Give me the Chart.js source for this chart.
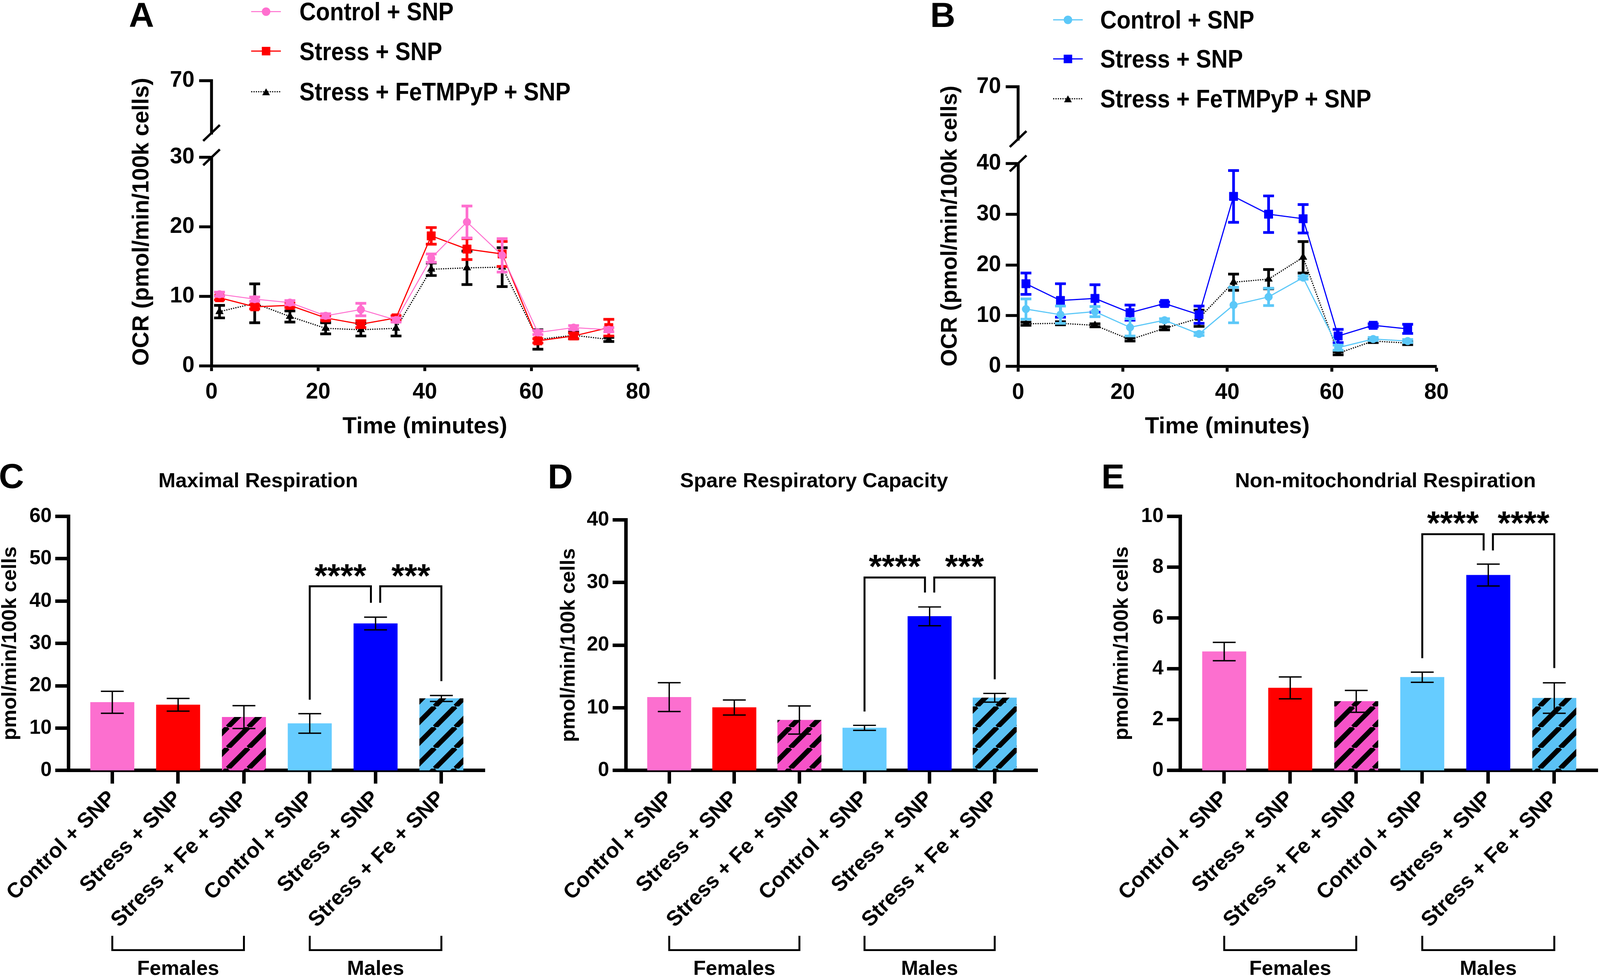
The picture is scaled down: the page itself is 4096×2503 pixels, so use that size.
<!DOCTYPE html>
<html><head><meta charset="utf-8">
<script src="https://cdn.jsdelivr.net/npm/chart.js@4.4.1/dist/chart.umd.min.js"></script>
<style>
html,body{margin:0;padding:0;background:#fff;}
body{width:4096px;height:2503px;position:relative;overflow:hidden;font-family:"Liberation Sans",Arial,Helvetica,sans-serif;font-weight:bold;color:#000;}
canvas{position:absolute;}
.t{position:absolute;white-space:nowrap;}
</style></head><body>
<script>
// ---------------- DATA ----------------
const timeMin = [1.5, 8.1, 14.7, 21.4, 28.0, 34.6, 41.2, 47.9, 54.5, 61.2, 67.9, 74.5];
const seriesNames = ['Control + SNP', 'Stress + SNP', 'Stress + FeTMPyP + SNP'];
const timeTicks = [0, 20, 40, 60, 80];

const A_control    = [10.3, 9.6, 9.1, 7.2, 8.1, 6.6, 15.5, 20.7, 15.9, 4.8, 5.5, 5.2];
const A_controlErr = [0.3, 0.3, 0.3, 0.3, 0.9, 0.3, 0.6, 2.3, 2.4, 0.3, 0.3, 0.3];
const A_stress     = [9.8, 8.5, 8.7, 6.9, 6.0, 6.9, 18.7, 16.8, 16.1, 3.6, 4.3, 5.5];
const A_stressErr  = [0.3, 0.3, 0.3, 0.3, 0.5, 0.3, 1.2, 1.5, 1.8, 0.3, 0.4, 1.2];
const A_fe         = [7.8, 9.0, 7.1, 5.4, 5.2, 5.4, 13.9, 14.1, 14.2, 3.8, 4.4, 3.8];
const A_feErr      = [0.9, 2.8, 0.8, 0.8, 0.9, 1.1, 0.9, 2.4, 2.8, 1.4, 0.5, 0.3];
const A_yTicks = [0, 10, 20, 30];

const B_control    = [11.3, 10.2, 10.8, 7.7, 9.1, 6.4, 12.1, 13.7, 17.5, 3.7, 5.4, 5.0];
const B_controlErr = [2.0, 1.7, 1.0, 1.7, 0.3, 0.3, 3.5, 1.7, 0.3, 0.5, 0.3, 0.3];
const B_stress     = [16.3, 13.0, 13.4, 10.6, 12.4, 10.2, 33.5, 30.0, 29.1, 6.0, 8.1, 7.4];
const B_stressErr  = [2.1, 3.3, 2.7, 1.5, 0.3, 1.7, 5.1, 3.6, 2.8, 1.3, 0.3, 0.9];
const B_fe         = [8.4, 8.5, 8.1, 5.3, 7.5, 9.5, 16.6, 17.2, 21.5, 2.6, 5.0, 4.6];
const B_feErr      = [0.3, 0.3, 0.3, 0.3, 0.3, 1.6, 1.6, 1.9, 3.1, 0.3, 0.3, 0.3];
const B_yTicks = [0, 10, 20, 30, 40];
const breakTickLabel = '70';

const barLabels = ['Control + SNP', 'Stress + SNP', 'Stress + Fe + SNP', 'Control + SNP', 'Stress + SNP', 'Stress + Fe + SNP'];
const groupNames = ['Females', 'Males'];
const groupSpans = [[0, 2], [3, 5]];

const C_mean = [16.1, 15.5, 12.6, 11.1, 34.7, 17.0];
const C_sem  = [2.6, 1.5, 2.7, 2.3, 1.5, 0.7];
const C_yTicks = [0, 10, 20, 30, 40, 50, 60];
const C_sigPairs = [[3, 4], [4, 5]];
const C_sigStars = ['****', '***'];
const C_sigTop   = [43.5, 43.5];
const C_sigEnds  = [[16.7, 39.6], [39.6, 21.1]];
const C_starY    = 47.2;

const D_mean = [11.7, 10.05, 8.05, 6.8, 24.6, 11.6];
const D_sem  = [2.3, 1.2, 2.25, 0.4, 1.5, 0.7];
const D_yTicks = [0, 10, 20, 30, 40];
const D_sigPairs = [[3, 4], [4, 5]];
const D_sigStars = ['****', '***'];
const D_sigTop   = [30.8, 30.8];
const D_sigEnds  = [[9.4, 28.4], [28.4, 14.55]];
const D_starY    = 33.45;

const E_mean = [4.68, 3.25, 2.72, 3.67, 7.69, 2.85];
const E_sem  = [0.36, 0.43, 0.43, 0.2, 0.43, 0.6];
const E_yTicks = [0, 2, 4, 6, 8, 10];
const E_sigPairs = [[3, 4], [4, 5]];
const E_sigStars = ['****', '****'];
const E_sigTop   = [9.3, 9.3];
const E_sigEnds  = [[4.42, 8.66], [8.66, 4.03]];
const E_starY    = 9.95;

// ---------------- STYLE ----------------
const S = 0.991;
const FONT = "'Liberation Sans', Arial, Helvetica, sans-serif";
const col = {
  pink: '#FC6FCF', red: '#FF0000', lblue: '#66CCFF', blue: '#0000FF', black: '#000000',
  pinkLine: '#FF6FCF', lblueLine: '#5CC8F8', hatchPink: '#F652C8', hatchBlue: '#5BC2F5'
};
Chart.defaults.font.family = FONT;
Chart.defaults.font.weight = 'bold';
Chart.defaults.color = '#000';

function addText(txt, x, baseline, fs, align, extra) {
  const d = document.createElement('div');
  d.className = 't';
  d.textContent = txt;
  d.style.fontSize = (fs * S) + 'px';
  d.style.lineHeight = (fs * S) + 'px';
  d.style.top = ((baseline - 0.8465 * fs) * S) + 'px';
  d.style.left = (x * S) + 'px';
  let tr = '';
  if (align === 'center') tr += 'translateX(-50%) ';
  if (extra && extra.scaleY) {
    tr += 'scaleY(' + extra.scaleY + ')';
    d.style.transformOrigin = '0 ' + (0.4885 * fs * S) + 'px';
  }
  if (tr) d.style.transform = tr;
  d.style.zIndex = 5;
  document.body.appendChild(d);
  return d;
}

function makeCanvas(x0, y0, x1, y1) {
  const c = document.createElement('canvas');
  c.width = Math.round((x1 - x0) * S);
  c.height = Math.round((y1 - y0) * S);
  c.style.left = (x0 * S) + 'px';
  c.style.top = (y0 * S) + 'px';
  c.style.width = c.width + 'px';
  c.style.height = c.height + 'px';
  document.body.appendChild(c);
  return c;
}

// error bar plugin
const errPlugin = {
  id: 'errBars',
  _draw(chart, idx) {
    const ds = chart.data.datasets[idx];
    if (!ds.errors) return;
    const ctx = chart.ctx, xs = chart.scales.x, ys = chart.scales.y;
    ctx.save();
    ctx.strokeStyle = ds.errColor;
    ctx.lineCap = 'butt';
    ds.data.forEach((d, i) => {
      const e = ds.errors[i];
      const x = xs.getPixelForValue(d.x);
      const yt = ys.getPixelForValue(d.y + e), yb = ys.getPixelForValue(d.y - e);
      ctx.lineWidth = ds.errWidth;
      ctx.beginPath(); ctx.moveTo(x, yb); ctx.lineTo(x, yt); ctx.stroke();
      ctx.lineWidth = ds.errCapThick;
      ctx.beginPath();
      ctx.moveTo(x - ds.errCap / 2, yt); ctx.lineTo(x + ds.errCap / 2, yt);
      ctx.moveTo(x - ds.errCap / 2, yb); ctx.lineTo(x + ds.errCap / 2, yb);
      ctx.stroke();
    });
    ctx.restore();
  },
  beforeDatasetDraw(chart, args) {
    const ds = chart.data.datasets[args.index];
    if (ds.errLayer === 'before') this._draw(chart, args.index);
  },
  afterDatasetDraw(chart, args) {
    const ds = chart.data.datasets[args.index];
    if (ds.errLayer === 'after') this._draw(chart, args.index);
  }
};

// broken axis decoration (upper segment of y axis)
const breakPlugin = {
  id: 'axisBreak',
  afterDraw(chart, args, o) {
    if (!o || !o.label) return;
    const ctx = chart.ctx, a = chart.chartArea;
    const x = chart.scales.y.left + chart.scales.y.width;
    const top = a.top;
    const g = 63 * S, up = 135 * S, tl = 32 * S;
    const yEnd = top - g - up;
    ctx.save();
    ctx.strokeStyle = '#000';
    ctx.lineWidth = 7.5 * S;
    ctx.lineJoin = 'miter';
    ctx.beginPath();
    ctx.moveTo(x - tl, yEnd); ctx.lineTo(x, yEnd); ctx.lineTo(x, top - g + 4 * S);
    ctx.stroke();
    ctx.lineWidth = 6 * S;
    [top, top - g].forEach(cy => {
      ctx.beginPath();
      ctx.moveTo(x - 21.5 * S, cy + 20.5 * S);
      ctx.lineTo(x + 21.5 * S, cy - 20.5 * S);
      ctx.stroke();
    });
    ctx.fillStyle = '#000';
    ctx.font = 'bold ' + (57 * S) + 'px ' + FONT;
    ctx.textAlign = 'right';
    ctx.textBaseline = 'middle';
    ctx.fillText(o.label, x - tl - 12 * S, yEnd);
    ctx.restore();
  }
};

// significance brackets
const sigPlugin = {
  id: 'sig',
  afterDraw(chart, args, o) {
    if (!o || !o.pairs) return;
    const ctx = chart.ctx, xs = chart.scales.x, ys = chart.scales.y;
    const count = {};
    o.pairs.forEach(p => p.forEach(i => count[i] = (count[i] || 0) + 1));
    ctx.save();
    ctx.strokeStyle = '#000'; ctx.fillStyle = '#000';
    ctx.lineWidth = 5 * S; ctx.lineJoin = 'miter'; ctx.lineCap = 'butt';
    o.pairs.forEach((p, k) => {
      let xa = xs.getPixelForValue(p[0]), xb = xs.getPixelForValue(p[1]);
      if (count[p[0]] > 1) xa += 12 * S;
      if (count[p[1]] > 1) xb -= 12 * S;
      const yTop = ys.getPixelForValue(o.top[k]);
      ctx.beginPath();
      ctx.moveTo(xa, ys.getPixelForValue(o.ends[k][0]));
      ctx.lineTo(xa, yTop); ctx.lineTo(xb, yTop);
      ctx.lineTo(xb, ys.getPixelForValue(o.ends[k][1]));
      ctx.stroke();
      ctx.font = 'bold ' + (86 * S) + 'px ' + FONT;
      ctx.textAlign = 'center'; ctx.textBaseline = 'alphabetic';
      const m = ctx.measureText(o.stars[k]);
      const off = (m.actualBoundingBoxAscent - m.actualBoundingBoxDescent) / 2;
      ctx.fillText(o.stars[k], (xa + xb) / 2, ys.getPixelForValue(o.starY) + off);
    });
    ctx.restore();
  }
};

// group brackets (Females / Males)
const groupPlugin = {
  id: 'groups',
  afterDraw(chart, args, o) {
    if (!o || !o.spans) return;
    const ctx = chart.ctx, xs = chart.scales.x, b = chart.chartArea.bottom;
    ctx.save();
    ctx.strokeStyle = '#000'; ctx.fillStyle = '#000';
    ctx.lineWidth = 5 * S; ctx.lineJoin = 'miter';
    o.spans.forEach((sp, k) => {
      const x1 = xs.getPixelForValue(sp[0]), x2 = xs.getPixelForValue(sp[1]);
      const yt = b + 427 * S, yl = b + 464 * S;
      ctx.beginPath();
      ctx.moveTo(x1, yt); ctx.lineTo(x1, yl); ctx.lineTo(x2, yl); ctx.lineTo(x2, yt);
      ctx.stroke();
      ctx.font = 'bold ' + (53 * S) + 'px ' + FONT;
      ctx.textAlign = 'center'; ctx.textBaseline = 'alphabetic';
      ctx.fillText(o.names[k], (x1 + x2) / 2, b + 528 * S);
    });
    ctx.restore();
  }
};

// ---------------- LINE CHARTS (A, B) ----------------
function lineChart(box, area, yTicks, series, yTitlePad, xTitlePad, yTitleSize) {
  const c = makeCanvas(box[0], box[1], box[2], box[3]);
  const yMax = yTicks[yTicks.length - 1];
  return new Chart(c, {
    type: 'line',
    data: {
      datasets: series.map(s => ({
        label: s.name,
        data: timeMin.map((t, i) => ({ x: t, y: s.values[i] })),
        errors: s.errors, errLayer: 'before', errColor: s.color,
        errWidth: 7 * S, errCap: 28 * S, errCapThick: 7 * S,
        borderColor: s.color, backgroundColor: s.color,
        borderWidth: s.lw * S, borderDash: s.dash ? s.dash.map(v => v * S) : [],
        pointStyle: s.marker, pointRadius: s.r * S, pointHoverRadius: s.r * S,
        pointBackgroundColor: s.color, pointBorderColor: s.color, pointBorderWidth: 1,
        tension: 0, clip: false, fill: false
      }))
    },
    options: {
      responsive: false, animation: false, events: [],
      layout: { autoPadding: false, padding: { left: 0, bottom: 0, top: (area[1] - box[1]) * S, right: (box[2] - area[2]) * S } },
      plugins: { legend: { display: false }, tooltip: { enabled: false }, axisBreak: { label: breakTickLabel } },
      scales: {
        x: {
          type: 'linear', min: timeTicks[0], max: timeTicks[timeTicks.length - 1],
          afterBuildTicks: sc => { sc.ticks = timeTicks.map(v => ({ value: v })); },
          ticks: { padding: 21 * S, font: { size: 57 * S, weight: 'bold' }, color: '#000' },
          grid: { drawOnChartArea: false, tickLength: 13.5 * S, tickWidth: 7.5 * S, tickColor: '#000' },
          border: { color: '#000', width: 7.5 * S },
          title: { display: true, text: 'Time (minutes)', color: '#000', font: { size: 60 * S, weight: 'bold', lineHeight: 1 }, padding: { top: 0, bottom: xTitlePad * S } },
          afterFit: sc => { sc.height = (box[3] - area[3]) * S; sc.paddingLeft = 0; sc.paddingRight = 0; }
        },
        y: {
          type: 'linear', min: 0, max: yMax,
          afterBuildTicks: sc => { sc.ticks = yTicks.map(v => ({ value: v })); },
          ticks: { padding: 12 * S, font: { size: 57 * S, weight: 'bold' }, color: '#000' },
          grid: { drawOnChartArea: false, tickLength: 32 * S, tickWidth: 7.5 * S, tickColor: '#000' },
          border: { color: '#000', width: 7.5 * S },
          title: { display: true, text: 'OCR (pmol/min/100k cells)', align: 'start', color: '#000', font: { size: yTitleSize * S, weight: 'bold', lineHeight: 1 }, padding: { top: yTitlePad * S, bottom: 0 } },
          afterFit: sc => { sc.width = (area[0] - box[0]) * S; sc.paddingTop = 0; sc.paddingBottom = 0; }
        }
      }
    },
    plugins: [errPlugin, breakPlugin]
  });
}

lineChart([300, 150, 1720, 1150], [546.7, 406, 1649, 944.5], A_yTicks, [
  { name: seriesNames[0], values: A_control, errors: A_controlErr, color: col.pinkLine, lw: 2.5, marker: 'circle', r: 10 },
  { name: seriesNames[1], values: A_stress, errors: A_stressErr, color: col.red, lw: 3, marker: 'rect', r: 15.5 },
  { name: seriesNames[2], values: A_fe, errors: A_feErr, color: col.black, lw: 3, dash: [3, 3], marker: 'triangle', r: 11.5 }
], 37.5, 18, 59);

lineChart([2380, 150, 3790, 1150], [2629.6, 421.7, 3710.6, 946], B_yTicks, [
  { name: seriesNames[0], values: B_control, errors: B_controlErr, color: col.lblueLine, lw: 3, marker: 'circle', r: 10 },
  { name: seriesNames[1], values: B_stress, errors: B_stressErr, color: col.blue, lw: 3, marker: 'rect', r: 15.5 },
  { name: seriesNames[2], values: B_fe, errors: B_feErr, color: col.black, lw: 3, dash: [3, 3], marker: 'triangle', r: 11.5 }
], 46, 18, 57.5);

// ---------------- BAR CHARTS (C, D, E) ----------------
function hatch(ctx, bg) {
  const P = Math.round(53 * S);
  const t = document.createElement('canvas');
  t.width = P; t.height = P;
  const g = t.getContext('2d');
  g.fillStyle = bg; g.fillRect(0, 0, P, P);
  g.strokeStyle = '#000'; g.lineWidth = 13 * S;
  for (let k = -1; k <= 1; k++) {
    g.beginPath(); g.moveTo(k * P, P); g.lineTo(k * P + P, 0); g.stroke();
  }
  return ctx.createPattern(t, 'repeat');
}

function barChart(box, area, means, sems, yTicks, sig, yTitlePad) {
  const c = makeCanvas(box[0], box[1], box[2], box[3]);
  const ctx = c.getContext('2d');
  const fills = [col.pink, col.red, hatch(ctx, col.hatchPink), col.lblue, col.blue, hatch(ctx, col.hatchBlue)];
  const yMax = yTicks[yTicks.length - 1];
  return new Chart(c, {
    type: 'bar',
    data: {
      datasets: [{
        data: means.map((v, i) => ({ x: i, y: v })),
        backgroundColor: fills, borderWidth: 0, barThickness: 113 * S,
        errors: sems, errLayer: 'after', errColor: '#000', errWidth: 3.5 * S, errCap: 59 * S, errCapThick: 3.5 * S
      }]
    },
    options: {
      responsive: false, animation: false, events: [],
      layout: { autoPadding: false, padding: { left: 0, bottom: 0, top: (area[1] - box[1]) * S, right: (box[2] - area[2]) * S } },
      plugins: {
        legend: { display: false }, tooltip: { enabled: false },
        sig: sig, groups: { spans: groupSpans, names: groupNames }
      },
      scales: {
        x: {
          type: 'linear', min: -0.667, max: 5.66, offset: false,
          afterBuildTicks: sc => { sc.ticks = barLabels.map((l, i) => ({ value: i })); },
          ticks: { autoSkip: false, minRotation: 45, maxRotation: 45, padding: 6 * S,
                   callback: v => barLabels[Math.round(v)], font: { size: 55 * S, weight: 'bold' }, color: '#000' },
          grid: { drawOnChartArea: false, offset: false, tickLength: 34 * S, tickWidth: 9 * S, tickColor: '#000' },
          border: { color: '#000', width: 9 * S },
          afterFit: sc => { sc.height = (box[3] - area[3]) * S; sc.paddingLeft = 0; sc.paddingRight = 0; }
        },
        y: {
          type: 'linear', min: 0, max: yMax,
          afterBuildTicks: sc => { sc.ticks = yTicks.map(v => ({ value: v })); },
          ticks: { padding: 9 * S, font: { size: 52 * S, weight: 'bold' }, color: '#000' },
          grid: { drawOnChartArea: false, tickLength: 34 * S, tickWidth: 9 * S, tickColor: '#000' },
          border: { color: '#000', width: 9 * S },
          title: { display: true, text: 'pmol/min/100k cells', color: '#000', font: { size: 53 * S, weight: 'bold', lineHeight: 1 }, padding: { top: yTitlePad * S, bottom: 0 } },
          afterFit: sc => { sc.width = (area[0] - box[0]) * S; sc.paddingTop = 0; sc.paddingBottom = 0; }
        }
      }
    },
    plugins: [errPlugin, sigPlugin, groupPlugin]
  });
}

barChart([0, 1290, 1300, 2524], [176.7, 1334, 1252.7, 1990], C_mean, C_sem, C_yTicks,
  { pairs: C_sigPairs, stars: C_sigStars, top: C_sigTop, ends: C_sigEnds, starY: C_starY }, 0);
barChart([1400, 1290, 2730, 2524], [1617, 1343, 2681, 1990], D_mean, D_sem, D_yTicks,
  { pairs: D_sigPairs, stars: D_sigStars, top: D_sigTop, ends: D_sigEnds, starY: D_starY }, 44);
barChart([2800, 1290, 4130, 2524], [3048.5, 1334, 4127.5, 1990], E_mean, E_sem, E_yTicks,
  { pairs: E_sigPairs, stars: E_sigStars, top: E_sigTop, ends: E_sigEnds, starY: E_starY }, 71.5);

// ---------------- TEXT: panel letters, titles, legends ----------------
addText('A', 333, 70, 90);
addText('B', 2403, 70, 90);
addText('C', -3, 1261, 90);
addText('D', 1415, 1262, 90);
addText('E', 2845, 1262, 90);
addText('Maximal Respiration', 667, 1259, 53, 'center');
addText('Spare Respiratory Capacity', 2103, 1259, 53, 'center');
addText('Non-mitochondrial Respiration', 3579, 1259, 53, 'center');

function legendRow(x0, x1, textX, cy, color, marker, dash, lw, label) {
  const w = (x1 - x0) * S, h = 40 * S;
  const ns = 'http://www.w3.org/2000/svg';
  const svg = document.createElementNS(ns, 'svg');
  svg.setAttribute('width', w); svg.setAttribute('height', h);
  svg.style.position = 'absolute';
  svg.style.left = (x0 * S) + 'px';
  svg.style.top = ((cy - 20) * S) + 'px';
  svg.style.zIndex = 5;
  const ln = document.createElementNS(ns, 'line');
  ln.setAttribute('x1', 0); ln.setAttribute('x2', w);
  ln.setAttribute('y1', h / 2); ln.setAttribute('y2', h / 2);
  ln.setAttribute('stroke', color); ln.setAttribute('stroke-width', lw * S);
  if (dash) ln.setAttribute('stroke-dasharray', dash.map(v => v * S).join(' '));
  svg.appendChild(ln);
  const cx = w / 2, cyy = h / 2;
  let m;
  if (marker === 'circle') {
    m = document.createElementNS(ns, 'circle');
    m.setAttribute('cx', cx); m.setAttribute('cy', cyy); m.setAttribute('r', 11 * S);
  } else if (marker === 'rect') {
    m = document.createElementNS(ns, 'rect');
    const s2 = 11 * S;
    m.setAttribute('x', cx - s2); m.setAttribute('y', cyy - s2);
    m.setAttribute('width', 2 * s2); m.setAttribute('height', 2 * s2);
  } else {
    m = document.createElementNS(ns, 'polygon');
    const hw = 10 * S, hh = 9 * S;
    m.setAttribute('points', `${cx},${cyy - hh} ${cx + hw},${cyy + hh} ${cx - hw},${cyy + hh}`);
  }
  m.setAttribute('fill', color);
  svg.appendChild(m);
  document.body.appendChild(svg);
  addText(label, textX, cy + 0.358 * 59, 59, 'left', { scaleY: 1.12 });
}
legendRow(649, 726, 773.5, 30, col.pinkLine, 'circle', null, 2.5, seriesNames[0]);
legendRow(649, 726, 773.5, 132.5, col.red, 'rect', null, 3, seriesNames[1]);
legendRow(649, 726, 773.5, 236.5, col.black, 'triangle', [3, 3], 3, seriesNames[2]);
legendRow(2720.5, 2797, 2842, 51, col.lblueLine, 'circle', null, 3, seriesNames[0]);
legendRow(2720.5, 2797, 2842, 152, col.blue, 'rect', null, 3, seriesNames[1]);
legendRow(2720.5, 2797, 2842, 255, col.black, 'triangle', [3, 3], 3, seriesNames[2]);
</script>
</body></html>
